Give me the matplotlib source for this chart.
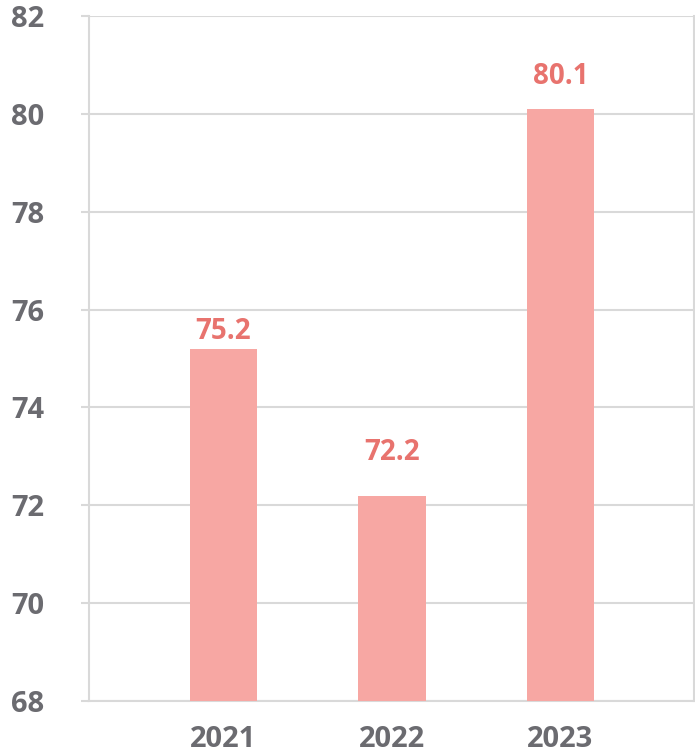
import matplotlib
matplotlib.use("Agg")
import matplotlib.pyplot as plt

years = ['2021', '2022', '2023']
values = [75.2, 72.2, 80.1]
yticks = [68, 70, 72, 74, 76, 78, 80, 82]

# gap between bar top and label baseline, in points (as in the original)
label_gap = [7.2, 25.2, 18.0]

bar_color = '#F7A7A3'
label_color = '#E8736E'
text_gray = '#6B6B70'
grid_gray = '#D9D9D9'

plt.rcParams['font.family'] = ['Open Sans', 'DejaVu Sans']

fig = plt.figure(figsize=(6.95, 7.53), dpi=100)
ax = fig.add_axes([89 / 695, 1 - 701 / 753, 605 / 695, 685 / 753])

x = list(range(len(years)))
ax.bar(x, values, width=0.40, color=bar_color, zorder=3)
for xi, v, g in zip(x, values, label_gap):
    ax.annotate(f'{v:.1f}', (xi, v), xytext=(0, g), textcoords='offset points',
                ha='center', va='baseline', fontsize=20, fontweight='bold',
                color=label_color, zorder=4)

ax.set_ylim(68, 82)
ax.set_xlim(-0.798, 2.792)
ax.set_yticks(yticks)
ax.set_yticklabels([str(t) for t in yticks])
ax.set_xticks(x)
ax.set_xticklabels(years)

ax.yaxis.grid(True, color=grid_gray, linewidth=1.5, zorder=0)
ax.set_axisbelow(True)

for side in ['left', 'bottom', 'right']:
    ax.spines[side].set_color(grid_gray)
    ax.spines[side].set_linewidth(1.5)
ax.spines['top'].set_visible(False)

ax.tick_params(axis='y', length=6, width=1.5, color=grid_gray, pad=26,
               labelsize=21, labelcolor=text_gray)
ax.tick_params(axis='x', length=0, pad=17, labelsize=21, labelcolor=text_gray)
for lbl in ax.get_xticklabels() + ax.get_yticklabels():
    lbl.set_fontweight('bold')

fig.savefig('out.png', dpi=100)
